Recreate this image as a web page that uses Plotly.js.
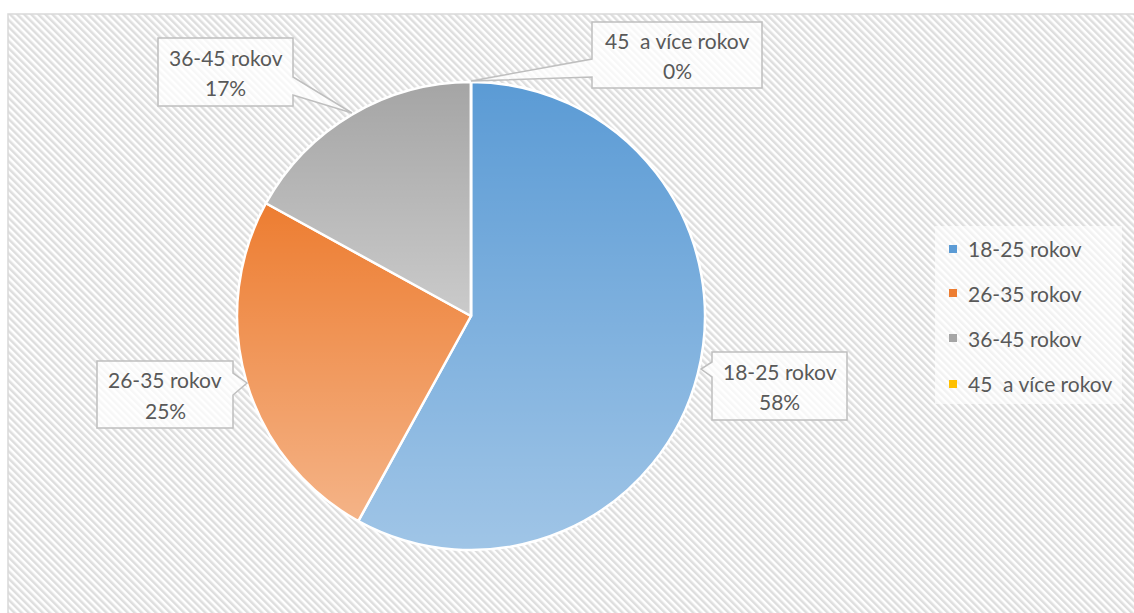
<!DOCTYPE html>
<html><head><meta charset="utf-8">
<script src="https://cdn.plot.ly/plotly-3.0.1.min.js"></script>
<style>html,body{margin:0;padding:0;background:#fff}#chart{width:1134px;height:613px}</style>
</head><body><div id="chart"></div>
<script>
// ---- data ----
const labels = ['18-25 rokov', '26-35 rokov', '36-45 rokov', '45\u00a0 a více rokov'];
const values = [58, 25, 17, 0];
const colors = ['#5b9bd5', '#ed7d31', '#a5a5a5', '#ffc000'];

// ---- layout helpers (pixel -> paper) ----
const W = 1134, H = 613;
const px = x => x / W;
const py = y => 1 - y / H;
const P = (x, y) => px(x).toFixed(5) + ',' + py(y).toFixed(5);

// pie placement (pixels)
const CX = 471, CY = 316, R = 234;

// callout label boxes (pixels)
const callouts = [
  {x0: 712, y0: 352, x1: 847, y1: 420, base: [[712, 362], [712, 377]], tip: [701, 369], side: 'left'},
  {x0: 97, y0: 361, x1: 233, y1: 428, base: [[233, 373], [233, 395]], tip: [247, 383], side: 'right'},
  {x0: 158, y0: 38, x1: 293, y1: 106, base: [[293, 77], [293, 95]], tip: [352, 113], side: 'right'},
  {x0: 592, y0: 22, x1: 762, y1: 88, base: [[592, 59], [592, 77]], tip: [471, 81], side: 'left'}
];
const legendY = [249, 293, 338, 384];

const total = values.reduce((a, b) => a + b, 0);
const pctText = values.map(v => Math.round(v / total * 100) + '%');

// ---- background hatch ----
const hatchW = W - 8, hatchH = H - 14;
const hatchSvg = `<svg xmlns="http://www.w3.org/2000/svg" width="${hatchW}" height="${hatchH}" viewBox="0 0 ${hatchW} ${hatchH}">
<defs><pattern id="h" patternUnits="userSpaceOnUse" width="5" height="5" patternTransform="rotate(-45)">
<rect x="0" y="0" width="2.5" height="5" fill="#dedede"/></pattern></defs>
<rect width="100%" height="100%" fill="#ffffff"/><rect width="100%" height="100%" fill="url(#h)"/></svg>`;

// ---- per-slice light gradient overlay ----
function slicePaths() {
  let out = '', acc = 0;
  const r = R, c = R;
  values.forEach((v, i) => {
    if (v <= 0) { return; }
    const a0 = acc / total * 2 * Math.PI; acc += v;
    const a1 = acc / total * 2 * Math.PI;
    const x0 = c + r * Math.sin(a0), y0 = c - r * Math.cos(a0);
    const x1 = c + r * Math.sin(a1), y1 = c - r * Math.cos(a1);
    const large = (a1 - a0) > Math.PI ? 1 : 0;
    out += `<path d="M${c},${c} L${x0.toFixed(2)},${y0.toFixed(2)} A${r},${r} 0 ${large} 1 ${x1.toFixed(2)},${y1.toFixed(2)} Z" fill="url(#g)"/>`;
  });
  return out;
}
const overlaySvg = `<svg xmlns="http://www.w3.org/2000/svg" width="${2*R}" height="${2*R}" viewBox="0 0 ${2*R} ${2*R}">
<defs><linearGradient id="g" x1="0" y1="0" x2="0" y2="1">
<stop offset="0" stop-color="#ffffff" stop-opacity="0"/><stop offset="1" stop-color="#ffffff" stop-opacity="0.42"/></linearGradient></defs>
${slicePaths()}</svg>`;
const uri = s => 'data:image/svg+xml;charset=utf-8,' + encodeURIComponent(s);

// ---- shapes & annotations ----
const shapes = [];
const annotations = [];
const textFont = {family: 'Lato, "Open Sans", sans-serif', size: 21, color: '#595959'};

// chart border
shapes.push({type: 'path', xref: 'paper', yref: 'paper', layer: 'above',
  path: `M${P(8, H + 5)} L${P(8, 14)} L${P(W + 5, 14)}`, line: {color: '#d9d9d9', width: 1.5}, fillcolor: 'rgba(0,0,0,0)'});

// legend background
shapes.push({type: 'rect', xref: 'paper', yref: 'paper', layer: 'above',
  x0: px(935), x1: px(1122), y0: py(404), y1: py(226), fillcolor: 'rgba(255,255,255,0.6)', line: {width: 0}});

callouts.forEach((c, i) => {
  let d;
  if (c.side === 'right') {
    d = `M${P(c.x0, c.y0)} L${P(c.x1, c.y0)} L${P(c.x1, c.base[0][1])} L${P(c.tip[0], c.tip[1])} L${P(c.x1, c.base[1][1])} L${P(c.x1, c.y1)} L${P(c.x0, c.y1)} Z`;
  } else {
    d = `M${P(c.x0, c.y0)} L${P(c.x1, c.y0)} L${P(c.x1, c.y1)} L${P(c.x0, c.y1)} L${P(c.x0, c.base[1][1])} L${P(c.tip[0], c.tip[1])} L${P(c.x0, c.base[0][1])} Z`;
  }
  shapes.push({type: 'path', xref: 'paper', yref: 'paper', layer: 'above', path: d,
    fillcolor: 'rgba(255,255,255,0.75)', line: {color: '#bfbfbf', width: 1.5}});
  const cx = (c.x0 + c.x1) / 2, h = c.y1 - c.y0;
  annotations.push({xref: 'paper', yref: 'paper', x: px(cx), y: py(c.y0 + h * 0.28), text: labels[i],
    showarrow: false, xanchor: 'center', yanchor: 'middle', font: textFont});
  annotations.push({xref: 'paper', yref: 'paper', x: px(cx), y: py(c.y0 + h * 0.735), text: pctText[i],
    showarrow: false, xanchor: 'center', yanchor: 'middle', font: textFont});
});

// manual legend
labels.forEach((lab, i) => {
  const cy = legendY[i];
  shapes.push({type: 'rect', xref: 'paper', yref: 'paper', layer: 'above',
    x0: px(949), x1: px(957), y0: py(cy + 4), y1: py(cy - 4), fillcolor: colors[i], line: {width: 0}});
  annotations.push({xref: 'paper', yref: 'paper', x: px(966), y: py(cy), text: lab,
    showarrow: false, xanchor: 'left', yanchor: 'middle', font: textFont});
});

const data = [{
  type: 'pie',
  labels: labels,
  values: values,
  sort: false,
  direction: 'clockwise',
  rotation: 0,
  textinfo: 'none',
  hoverinfo: 'label+percent',
  marker: {colors: colors, line: {color: '#ffffff', width: 2.5}},
  domain: {x: [px(CX - R), px(CX + R)], y: [py(CY + R), py(CY - R)]},
  showlegend: false
}];

const layout = {
  width: W, height: H,
  margin: {l: 0, r: 0, t: 0, b: 0, pad: 0},
  paper_bgcolor: '#ffffff',
  showlegend: false,
  font: textFont,
  images: [
    {source: uri(hatchSvg), xref: 'paper', yref: 'paper', x: px(8), y: py(14), sizex: hatchW / W, sizey: hatchH / H,
      xanchor: 'left', yanchor: 'top', sizing: 'stretch', layer: 'below'},
    {source: uri(overlaySvg), xref: 'paper', yref: 'paper', x: px(CX - R), y: py(CY - R), sizex: 2 * R / W, sizey: 2 * R / H,
      xanchor: 'left', yanchor: 'top', sizing: 'stretch', layer: 'above'}
  ],
  shapes: shapes,
  annotations: annotations
};

Plotly.newPlot('chart', data, layout, {displayModeBar: false, staticPlot: true});
</script>
</body></html>
